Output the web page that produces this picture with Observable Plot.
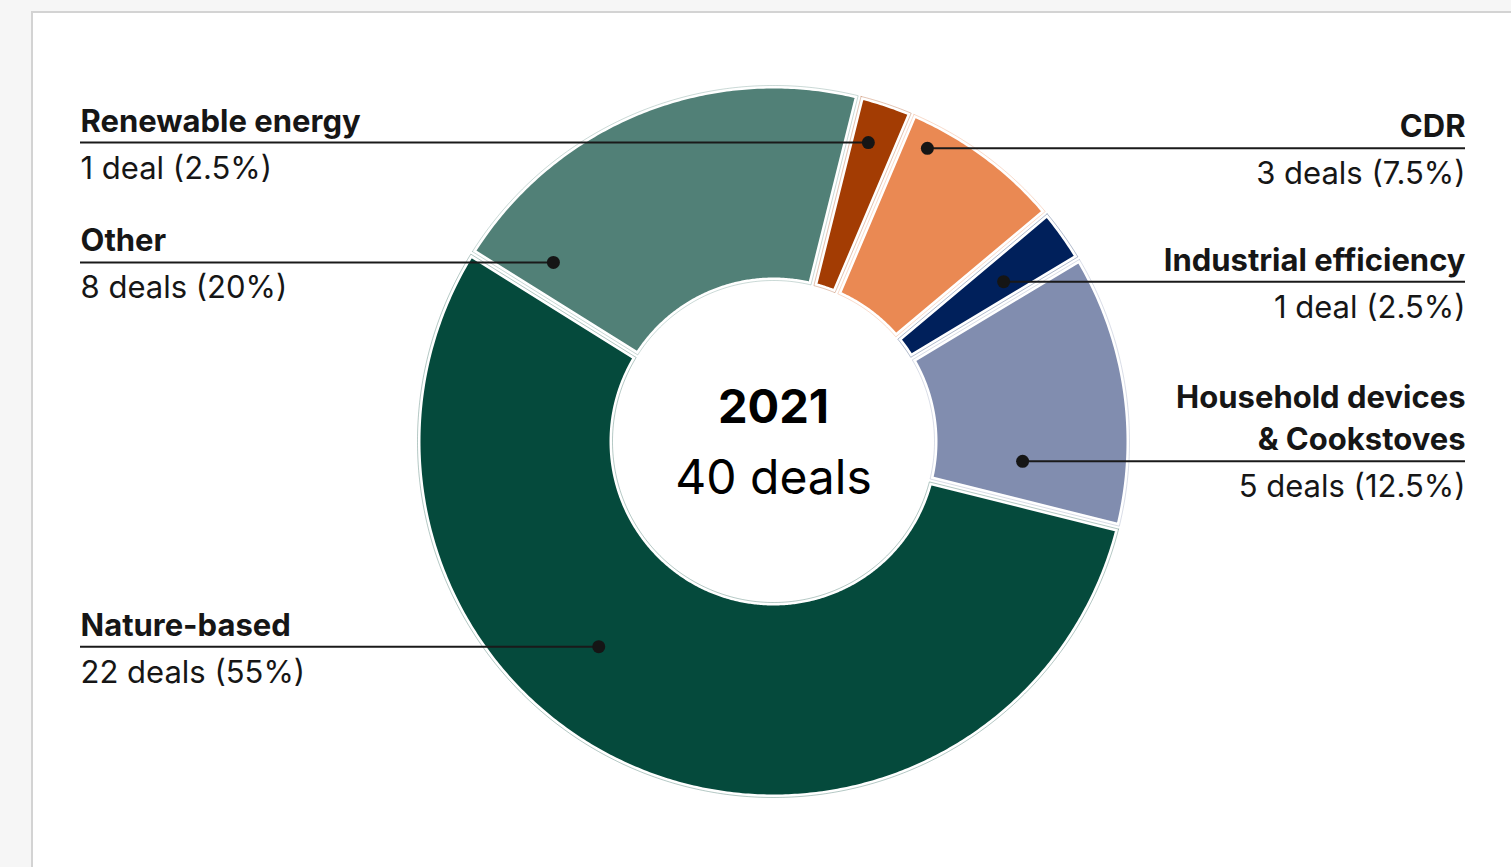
<!DOCTYPE html>
<html><head><meta charset="utf-8">
<script src="https://cdn.jsdelivr.net/npm/d3@7"></script>
<script src="https://cdn.jsdelivr.net/npm/@observablehq/plot@0.6"></script>
<style>
html,body{margin:0;padding:0;background:#f6f6f6;width:1511px;height:867px;overflow:hidden;font-family:Inter,sans-serif;}
#card{position:absolute;left:31px;top:11px;width:1600px;height:1000px;background:#fff;border:2px solid #d3d3d3;box-sizing:border-box;}
#chart{position:absolute;left:0;top:0;}
</style></head><body>
<div id="card"></div><div id="chart"></div>
<script>
// ---- data ----
const categories = ["Renewable energy", "CDR", "Industrial efficiency", "Household devices & Cookstoves", "Nature-based", "Other"];
const labelNames = ["Renewable energy", "CDR", "Industrial efficiency", "Household devices\n& Cookstoves", "Nature-based", "Other"];
const deals = [1, 3, 1, 5, 22, 8];
const colors = ["#a33c03", "#ea8953", "#00205b", "#818daf", "#054a3c", "#518077"];
const yearLabel = "2021";

// ---- layout (styles / positions, not data) ----
const W = 1511, H = 867, CX = 773, CY = 441, R_OUT = 356, R_IN = 161, HALF_GAP = 1.5;
const startAngleDeg = 14;
const labelLayout = [ // side, dot position: fraction along slice angle, radius as fraction of outer
  {side: "left",  f: 0.40, r: 0.881},
  {side: "right", f: 0.174, r: 0.930},
  {side: "right", f: 0.58, r: 0.787},
  {side: "right", f: 0.79, r: 0.702},
  {side: "left",  f: 0.588, r: 0.757},
  {side: "left",  f: 0.099, r: 0.797}
];
const LEFT_X = (80 - CX) / R_OUT, RIGHT_X = (1465 - CX) / R_OUT;

const total = d3.sum(deals);
const fmtPct = v => `${+(v).toFixed(1)}%`;
const rad = d => d * Math.PI / 180;

// slice angles
let acc = rad(startAngleDeg);
const slices = categories.map((c, i) => {
  const a0 = acc, a1 = acc + deals[i] / total * 2 * Math.PI;
  acc = a1;
  return {cat: c, i, a0, a1};
});

const ri = R_IN / R_OUT, ro = 1;
const pt = (a, r) => ({x: r * Math.sin(a), y: -r * Math.cos(a)});
const poly = [];
for (const s of slices) {
  const po = Math.asin(HALF_GAP / R_OUT), pi = Math.asin(HALF_GAP / R_IN);
  const oa0 = s.a0 + po, oa1 = s.a1 - po, ia0 = s.a0 + pi, ia1 = s.a1 - pi;
  const n = Math.max(4, Math.ceil((oa1 - oa0) / rad(0.5)));
  const pts = [];
  for (let k = 0; k <= n; k++) pts.push(pt(oa0 + (oa1 - oa0) * k / n, ro));
  for (let k = 0; k <= n; k++) pts.push(pt(ia1 - (ia1 - ia0) * k / n, ri));
  pts.push(pts[0]);
  for (const p of pts) poly.push({cat: s.cat, x: p.x, y: p.y});
}

const labels = slices.map((s, i) => {
  const L = labelLayout[i];
  const d = pt(s.a0 + (s.a1 - s.a0) * L.f, L.r);
  const n = deals[i];
  return {
    cat: s.cat, side: L.side, dx: d.x, dy: d.y,
    tx: L.side === "left" ? LEFT_X : RIGHT_X,
    name: labelNames[i],
    value: `${n} ${n === 1 ? "deal" : "deals"} (${fmtPct(n / total * 100)})`
  };
});
const leftL = labels.filter(d => d.side === "left"), rightL = labels.filter(d => d.side === "right");
const center = [{x: 0, y: 0}];

const textCommon = {fontFamily: "Inter, sans-serif", lineAnchor: "bottom", fill: "#161616"};
const nameStyle = {...textCommon, fontSize: 31, fontWeight: 700, lineHeight: 1.38, dy: -11};
const valueStyle = {...textCommon, fontSize: 31, dy: 36};

const chart = Plot.plot({
  width: W, height: H,
  margin: 0,
  x: {domain: [-CX / R_OUT, (W - CX) / R_OUT], range: [0, W], axis: null},
  y: {domain: [-CY / R_OUT, (H - CY) / R_OUT], range: [0, H], axis: null},
  color: {domain: categories, range: colors},
  style: {background: "transparent", overflow: "visible"},
  marks: [
    Plot.line(poly, {x: "x", y: "y", z: "cat", fill: "cat", stroke: "white", strokeWidth: 6, strokeLinejoin: "round", curve: "linear"}),
    Plot.line(poly, {x: "x", y: "y", z: "cat", stroke: "cat", strokeOpacity: 0.3, strokeWidth: 1, curve: "linear"}),
    Plot.ruleY(labels, {y: "dy", x1: "tx", x2: "dx", stroke: "#1a1a1a", strokeWidth: 2}),
    Plot.dot(labels, {x: "dx", y: "dy", r: 6.5, fill: "#151515"}),
    Plot.text(leftL, {...nameStyle, x: "tx", y: "dy", text: "name", textAnchor: "start"}),
    Plot.text(leftL, {...valueStyle, x: "tx", y: "dy", text: "value", textAnchor: "start"}),
    Plot.text(rightL, {...nameStyle, x: "tx", y: "dy", text: "name", textAnchor: "end"}),
    Plot.text(rightL, {...valueStyle, x: "tx", y: "dy", text: "value", textAnchor: "end"}),
    Plot.text(center, {x: "x", y: "y", text: () => yearLabel, fontFamily: "Inter, sans-serif", fontSize: 47, fontWeight: 700, fill: "#000", lineAnchor: "bottom", dy: -19}),
    Plot.text(center, {x: "x", y: "y", text: () => `${total} deals`, fontFamily: "Inter, sans-serif", fontSize: 48, fill: "#000", lineAnchor: "bottom", dy: 52})
  ]
});
document.getElementById("chart").appendChild(chart);
</script>
</body></html>
